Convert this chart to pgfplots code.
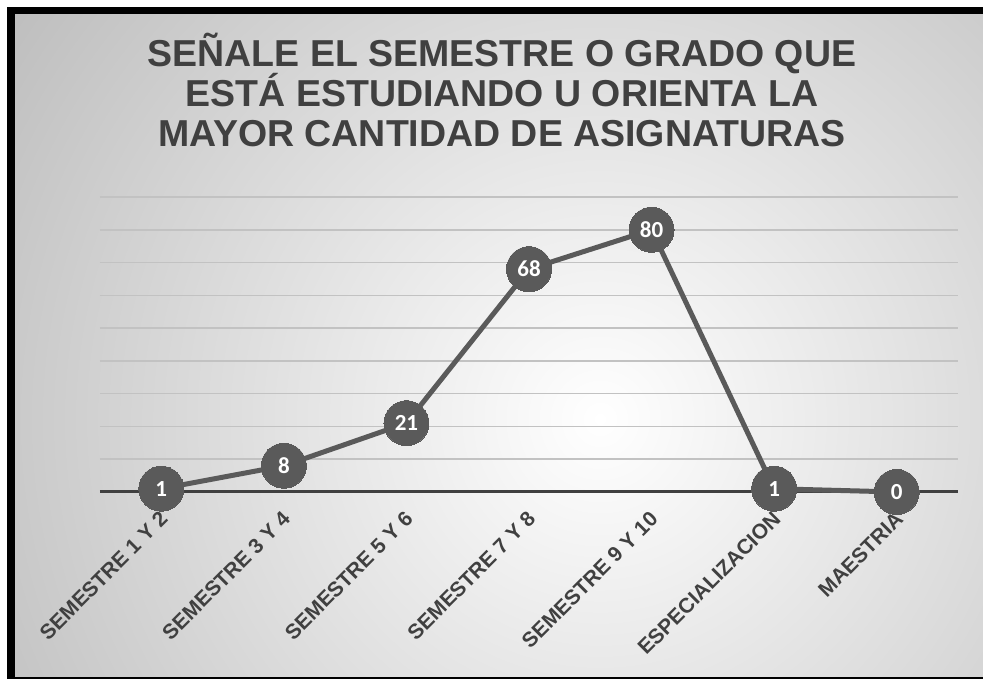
\documentclass[border=0pt]{standalone}
\usepackage{fontspec}
\setmainfont{Liberation Sans}
\newfontfamily\carlito{Carlito}
\usepackage{pgfplots}
\pgfplotsset{compat=1.18}
\definecolor{ser}{HTML}{5A5A5A}
\definecolor{ttl}{HTML}{404040}
\begin{document}
\begin{tikzpicture}[x=1pt,y=1pt]
\useasboundingbox (0,0) rectangle (983,679);
\fill[white] (0,0) rectangle (983,679);
\fill[black] (7,0) rectangle (990,672);
\begin{scope}
\clip (15,2) rectangle (990,664);
\shade[inner color=white, outer color=black!27] (600,260) circle (760);
\end{scope}
\node[anchor=base, text=ttl, font=\fontsize{37.5}{40}\selectfont\bfseries] at (502,612) {SEÑALE EL SEMESTRE O GRADO QUE};
\node[anchor=base, text=ttl, font=\fontsize{37.5}{40}\selectfont\bfseries] at (502,572) {ESTÁ ESTUDIANDO U ORIENTA LA};
\node[anchor=base, text=ttl, font=\fontsize{37.5}{40}\selectfont\bfseries] at (502,532) {MAYOR CANTIDAD DE ASIGNATURAS};
\begin{axis}[
  at={(100pt,187pt)}, anchor=south west,
  scale only axis, width=858pt, height=295pt,
  xmin=-0.5, xmax=6.5, ymin=0, ymax=90,
  clip=false,
  /pgf/number format/assume math mode=true,
  axis x line*=bottom, axis y line*=left,
  y axis line style={draw=none},
  x axis line style={line width=3pt, color=ttl, -},
  major tick style={draw=none},
  ytick={10,20,...,90}, yticklabels={},
  ymajorgrids, grid style={black!24, line width=1.5pt},
  xtick={0,...,6},
  xticklabels={SEMESTRE 1 Y 2, SEMESTRE 3 Y 4, SEMESTRE 5 Y 6, SEMESTRE 7 Y 8, SEMESTRE 9 Y 10, ESPECIALIZACION, MAESTRIA},
  xticklabel style={font=\fontsize{21}{21}\selectfont\bfseries, text=ttl, xshift=5pt, yshift=-21pt, rotate=45, anchor=east},
]
\addplot[color=ser, line width=5pt, mark=*, mark size=22.5pt,
  mark options={fill=ser, draw=ser, line width=0pt},
  nodes near coords,
  every node near coord/.append style={anchor=center, text=white, font=\carlito\bfseries\fontsize{23}{23}\selectfont}]
coordinates {(0,1) (1,8) (2,21) (3,68) (4,80) (5,1) (6,0)};
\end{axis}
\end{tikzpicture}
\end{document}
